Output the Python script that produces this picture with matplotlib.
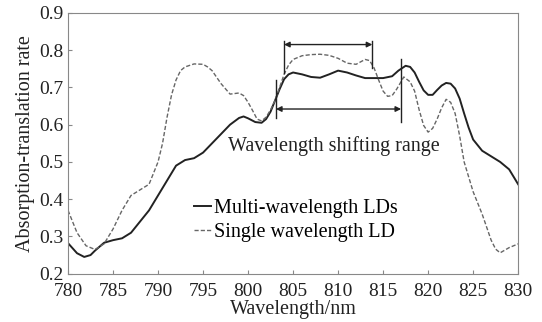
import matplotlib
matplotlib.use("Agg")
import matplotlib.pyplot as plt

# Multi-wavelength LDs (wavelength nm, rate)
multi_wl = [780, 781, 781.8, 782.5, 783, 784, 785, 786, 787, 788, 789,
            790, 791, 792, 793, 794, 795, 796, 797, 798, 799, 799.5,
            800, 800.8, 801.5, 802, 802.5, 803, 803.5, 804, 804.5, 805, 806, 807, 808, 809,
            810, 811, 812, 813, 814, 815, 816, 816.7, 817.5, 818, 818.5, 819, 819.5,
            820, 820.5, 821, 821.5, 822, 822.5, 823, 823.5, 824, 824.5, 825, 826, 827, 828, 829, 830]
multi = [0.282, 0.255, 0.245, 0.250, 0.262, 0.283, 0.290, 0.295, 0.310, 0.340, 0.370,
         0.410, 0.450, 0.490, 0.505, 0.510, 0.525, 0.550, 0.575, 0.600, 0.618, 0.622,
         0.617, 0.607, 0.605, 0.615, 0.635, 0.665, 0.695, 0.722, 0.735, 0.740, 0.735, 0.728, 0.726, 0.735,
         0.745, 0.740, 0.732, 0.725, 0.725, 0.725, 0.730, 0.745, 0.758, 0.755, 0.740, 0.715, 0.692,
         0.680, 0.680, 0.693, 0.705, 0.712, 0.710, 0.697, 0.670, 0.630, 0.592, 0.560, 0.530, 0.515, 0.500, 0.480, 0.440]

# Single wavelength LD (wavelength nm, rate)
single_wl = [780, 781, 782, 783, 784, 785, 786, 787, 788, 789,
             790, 790.5, 791, 791.5, 792, 792.5, 793, 794, 795, 795.5, 796, 797, 798, 799, 799.5,
             800, 800.5, 801, 801.5, 802, 802.5, 803, 803.5, 804, 804.5, 805, 806, 807, 808, 809,
             810, 811, 812, 813, 813.5, 814, 814.5, 815, 815.5, 816, 816.5, 817.3, 818, 818.5, 819, 819.5,
             820, 820.5, 821, 821.5, 822, 822.5, 823, 823.5, 824, 825, 826, 827, 827.5, 828, 829, 830]
single = [0.370, 0.310, 0.275, 0.265, 0.280, 0.320, 0.370, 0.410, 0.425, 0.440,
          0.500, 0.550, 0.620, 0.680, 0.720, 0.745, 0.755, 0.763, 0.762, 0.755, 0.745, 0.710, 0.682, 0.685, 0.678,
          0.660, 0.638, 0.615, 0.610, 0.620, 0.640, 0.665, 0.700, 0.735, 0.760, 0.775, 0.785, 0.788, 0.789, 0.786,
          0.778, 0.765, 0.762, 0.775, 0.772, 0.752, 0.720, 0.690, 0.676, 0.678, 0.695, 0.728, 0.715, 0.690, 0.640, 0.598,
          0.580, 0.590, 0.615, 0.645, 0.668, 0.660, 0.630, 0.570, 0.500, 0.420, 0.360, 0.290, 0.266, 0.256, 0.270, 0.280]

xticks = [780, 785, 790, 795, 800, 805, 810, 815, 820, 825, 830]
yticks = [0.2, 0.3, 0.4, 0.5, 0.6, 0.7, 0.8, 0.9]

plt.rcParams["font.family"] = ["Liberation Serif", "DejaVu Serif"]

fig = plt.figure(figsize=(5.42, 3.22), dpi=100)
ax = fig.add_axes([0.1255, 0.150, 0.8305, 0.810])

ax.plot(multi_wl, multi, "-", color="#222222", lw=1.4, label="Multi-wavelength LDs")
ax.plot(single_wl, single, "--", color="#666666", lw=1.0, dashes=(3, 1.5),
        label="Single wavelength LD")

# shifting range markers
arrow = dict(arrowstyle="<|-|>", color="#222222", lw=1.0,
             mutation_scale=8, shrinkA=0, shrinkB=0)
ax.annotate("", xy=(804.0, 0.815), xytext=(813.8, 0.815), arrowprops=arrow)
ax.plot([804.0, 804.0], [0.739, 0.824], color="#222222", lw=1.0)
ax.plot([813.8, 813.8], [0.753, 0.824], color="#222222", lw=1.0)

ax.annotate("", xy=(803.1, 0.642), xytext=(817.0, 0.642), arrowprops=arrow)
ax.plot([803.1, 803.1], [0.617, 0.719], color="#222222", lw=1.0)
ax.plot([817.0, 817.0], [0.608, 0.777], color="#222222", lw=1.0)

ax.text(809.5, 0.543, "Wavelength shifting range", ha="center", va="center",
        fontsize=14.5, color="#222222")

ax.set_xlim(780, 830)
ax.set_ylim(0.2, 0.9)
ax.set_xticks(xticks)
ax.set_yticks(yticks)
ax.set_yticklabels([f"{v:.1f}" for v in yticks])
ax.tick_params(direction="in", length=3, color="#888888", labelsize=14,
               labelcolor="#222222")
ax.tick_params(axis="x", pad=6.5)
ax.tick_params(axis="y", pad=3)
for s in ax.spines.values():
    s.set_color("#888888")
    s.set_linewidth(0.8)

ax.set_xlabel("Wavelength/nm", fontsize=14.5, color="#222222", labelpad=0.5)
ax.set_ylabel("Absorption-translation rate", fontsize=14.5, color="#222222",
              labelpad=3)

ax.legend(loc="center left", bbox_to_anchor=(0.28, 0.204), frameon=False,
          fontsize=14.5, handlelength=0.85, handletextpad=0.15,
          labelspacing=0.2, borderpad=0, borderaxespad=0)

fig.savefig("out.png", dpi=100)
